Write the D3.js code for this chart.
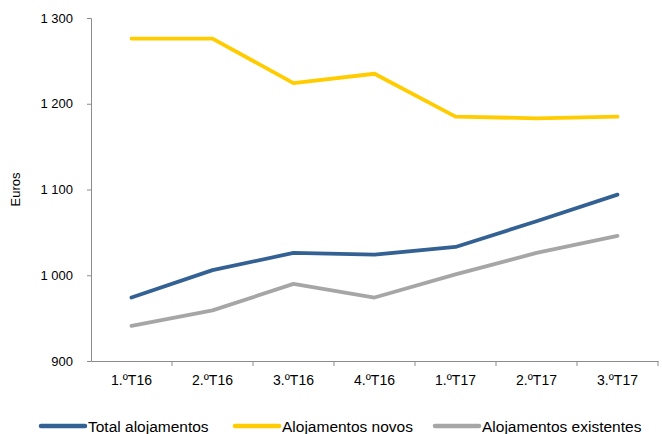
<!DOCTYPE html>
<html>
<head>
<meta charset="utf-8">
<script src="https://cdn.jsdelivr.net/npm/d3@7"></script>
<style>
  body { margin: 0; background: #fff; }
  svg { display: block; font-family: "Liberation Sans", Arial, sans-serif; }
</style>
</head>
<body>
<div id="chart"></div>
<script>
const quarters = ["1.ºT16", "2.ºT16", "3.ºT16", "4.ºT16", "1.ºT17", "2.ºT17", "3.ºT17"];
const total = [974, 1006, 1026, 1024, 1033, 1063, 1094];
const novos = [1276, 1276, 1224, 1235, 1185, 1183, 1185];
const existentes = [941, 959, 990, 974, 1001, 1026, 1046];
const yTicks = [900, 1000, 1100, 1200, 1300];

const series = [
  { name: "Total alojamentos", values: total, color: "#336194" },
  { name: "Alojamentos novos", values: novos, color: "#ffcc00" },
  { name: "Alojamentos existentes", values: existentes, color: "#a6a6a6" }
];

const width = 662, height = 434;
const plot = { left: 91, right: 658, top: 18, bottom: 361 };

const svg = d3.select("#chart").append("svg")
  .attr("width", width)
  .attr("height", height);

const x = d3.scaleBand().domain(quarters).range([plot.left, plot.right]);
const y = d3.scaleLinear().domain([900, 1300]).range([plot.bottom, plot.top]);

const fmt = v => d3.format(",")(v).replace(/,/g, " ");

// y axis
const yAxis = svg.append("g")
  .attr("transform", `translate(${plot.left},0)`)
  .call(d3.axisLeft(y).tickValues(yTicks).tickSize(4).tickPadding(14).tickFormat(fmt));
yAxis.select(".domain").attr("stroke", "#8c8c8c");
yAxis.selectAll(".tick line").attr("stroke", "#8c8c8c");
yAxis.selectAll("text").attr("font-size", 13).attr("fill", "#000")
  .attr("font-family", "Liberation Sans, Arial, sans-serif");

// x axis
const xAxis = svg.append("g")
  .attr("transform", `translate(0,${plot.bottom})`)
  .call(d3.axisBottom(x).tickSize(0).tickPadding(14));
xAxis.select(".domain").attr("stroke", "#8c8c8c");
xAxis.selectAll("text").attr("font-size", 14).attr("fill", "#000")
  .attr("font-family", "Liberation Sans, Arial, sans-serif");
// tick marks at category boundaries
xAxis.selectAll(".bound")
  .data(quarters)
  .join("line")
  .attr("class", "bound")
  .attr("x1", d => x(d) + x.bandwidth())
  .attr("x2", d => x(d) + x.bandwidth())
  .attr("y1", 0).attr("y2", 5)
  .attr("stroke", "#8c8c8c");

svg.append("text")
  .attr("transform", `translate(20,${(plot.top + plot.bottom) / 2}) rotate(-90)`)
  .attr("text-anchor", "middle")
  .attr("font-size", 13)
  .text("Euros");

const line = d3.line()
  .x((d, i) => x(quarters[i]) + x.bandwidth() / 2)
  .y(d => y(d));

svg.append("g").selectAll("path")
  .data(series)
  .join("path")
  .attr("fill", "none")
  .attr("stroke", d => d.color)
  .attr("stroke-width", 3.8)
  .attr("stroke-linejoin", "round")
  .attr("stroke-linecap", "round")
  .attr("d", d => line(d.values));

// legend
const legendX = [41, 235, 435];
const lg = svg.append("g").selectAll("g")
  .data(series)
  .join("g")
  .attr("transform", (d, i) => `translate(${legendX[i]},426)`);
lg.append("line")
  .attr("x1", 0).attr("x2", 44)
  .attr("stroke", d => d.color)
  .attr("stroke-width", 4.5)
  .attr("stroke-linecap", "round");
lg.append("text")
  .attr("x", 47)
  .attr("y", 6)
  .attr("font-size", 15.5)
  .text(d => d.name);
</script>
</body>
</html>
